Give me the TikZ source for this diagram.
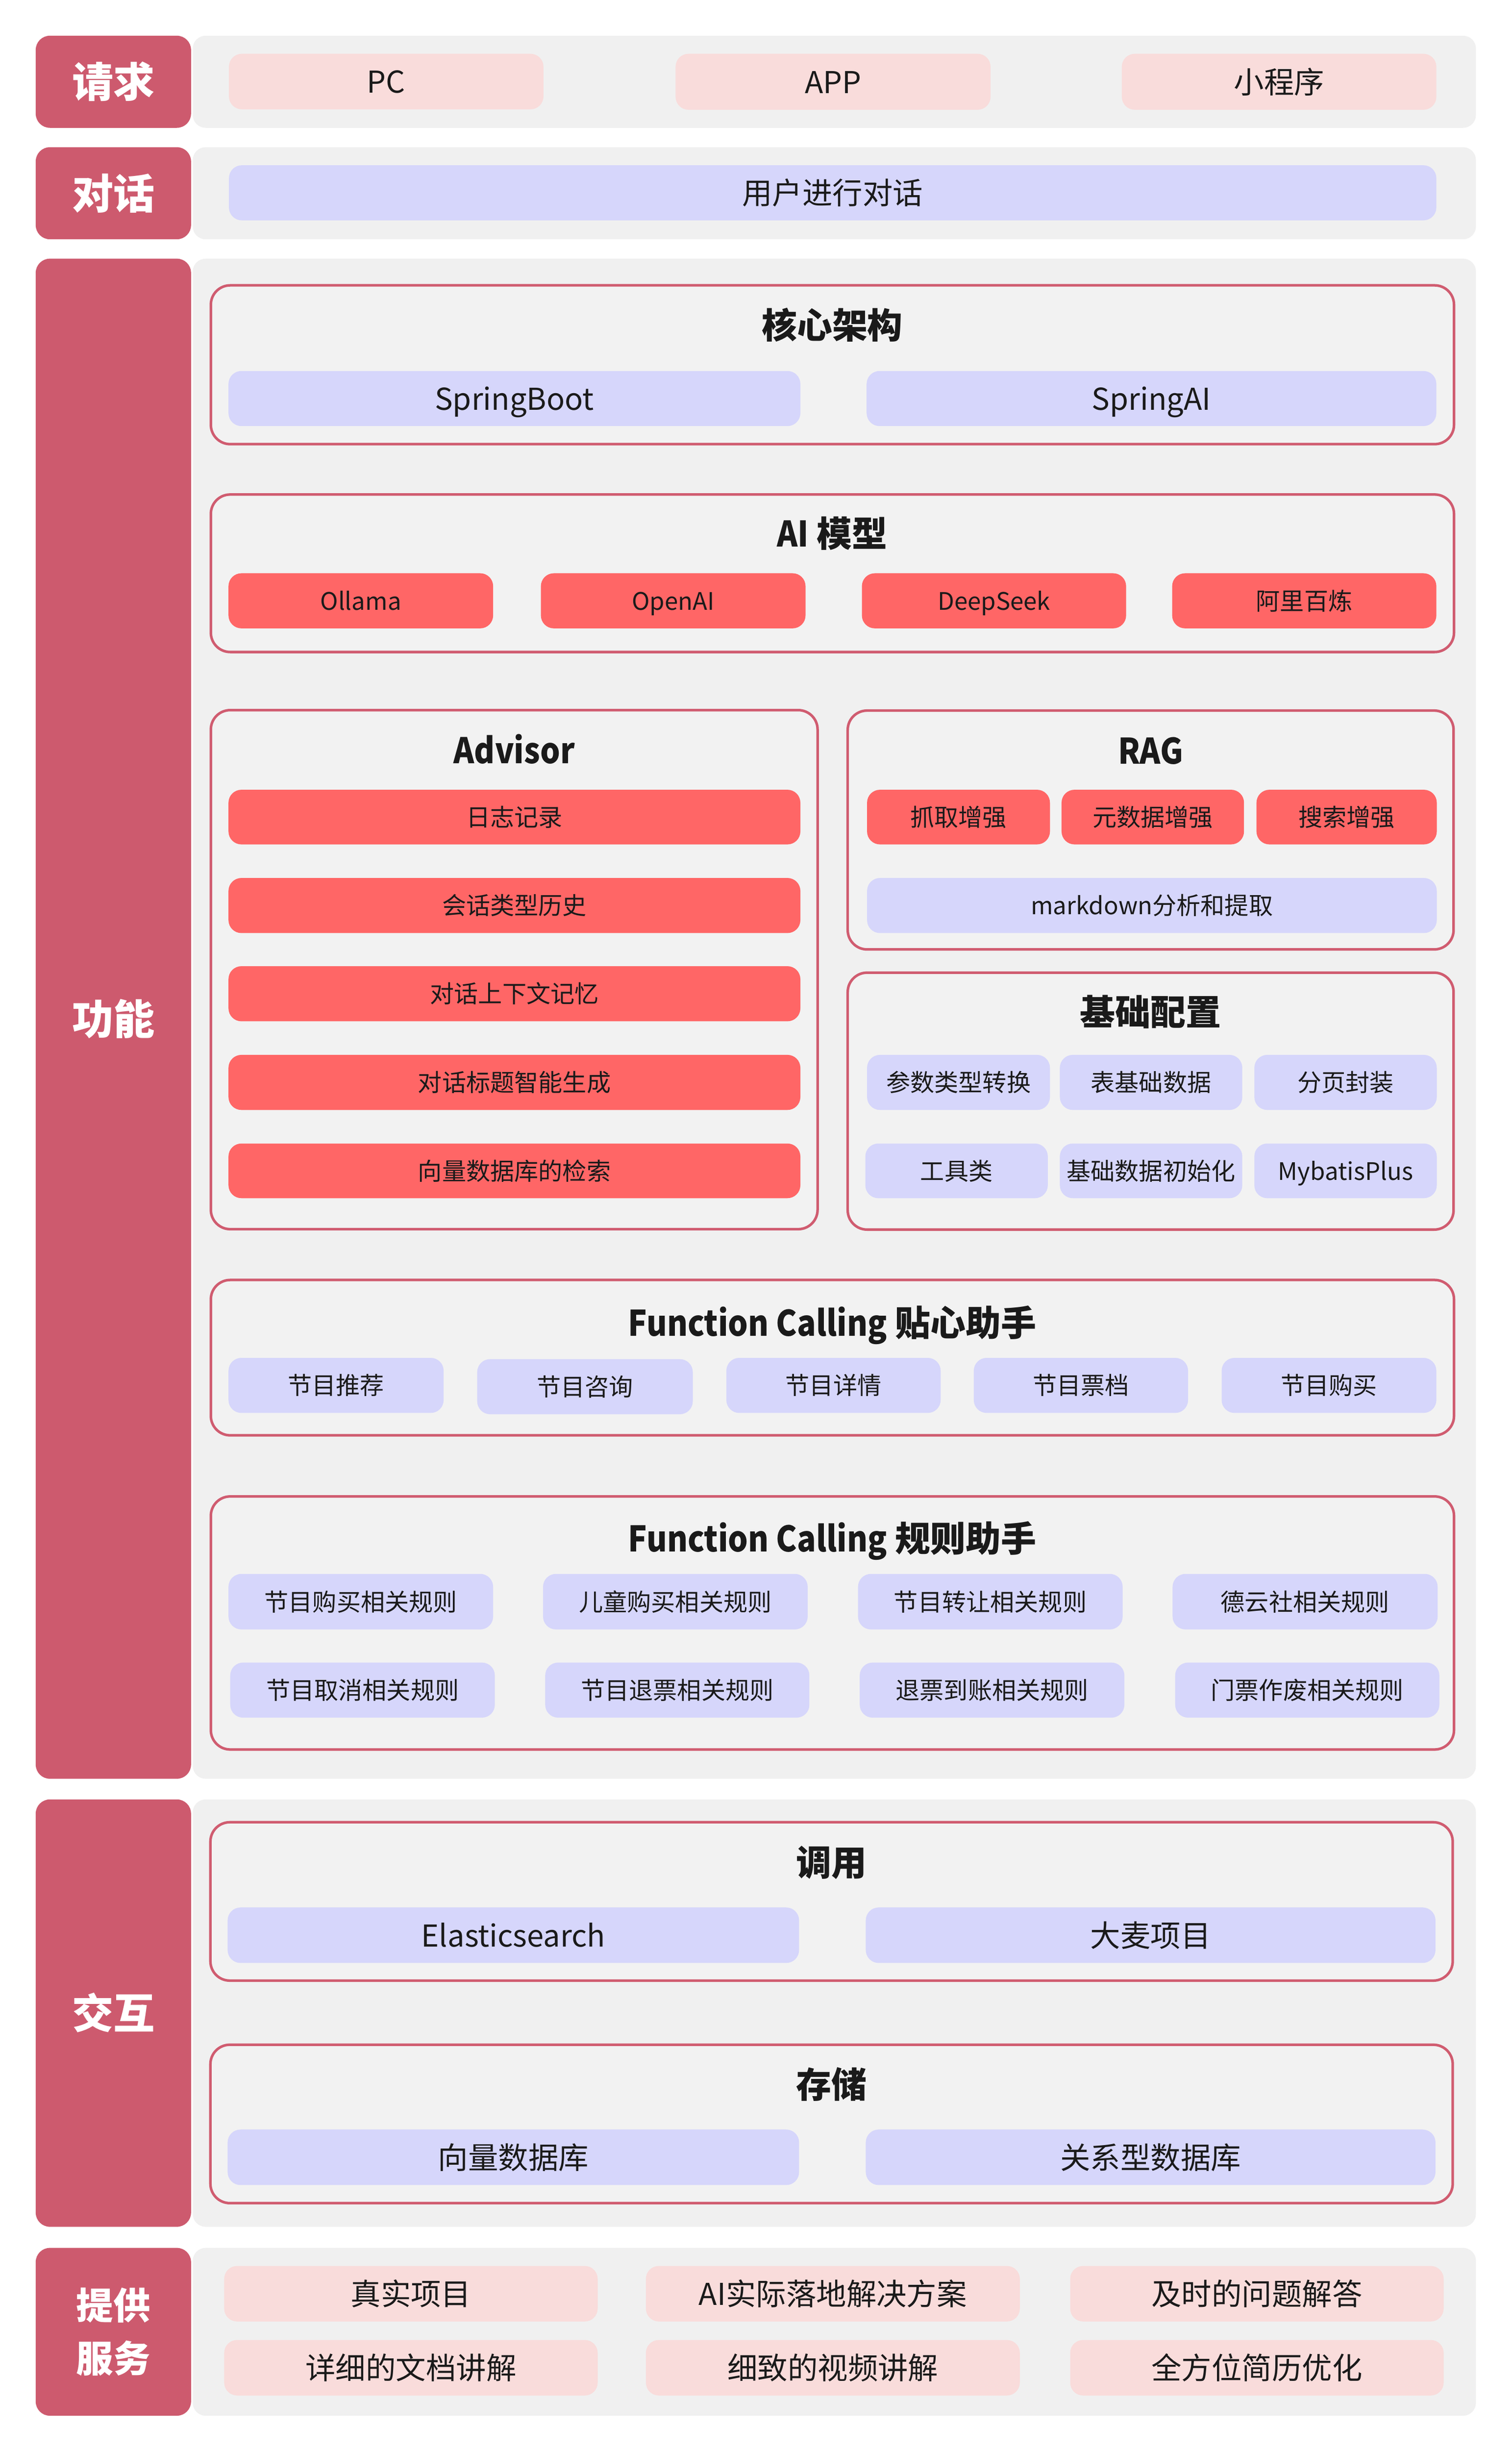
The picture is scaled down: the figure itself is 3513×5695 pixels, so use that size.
\documentclass[tikz,border=0pt]{standalone}
\usepackage{fontspec}
\setmainfont{Noto Sans CJK SC}
\newfontfamily\ttlL{Noto Sans CJK SC}[FakeStretch=0.89]
\definecolor{labc}{RGB}{205,90,110}
\definecolor{framec}{RGB}{208,92,112}
\definecolor{grayc}{RGB}{240,240,240}
\definecolor{framefill}{RGB}{242,242,242}
\definecolor{pinkc}{RGB}{249,220,219}
\definecolor{lavc}{RGB}{214,214,251}
\definecolor{coralc}{RGB}{255,102,102}
\definecolor{txtc}{RGB}{26,26,26}
\newcommand\bx[7]{\node[#2,minimum width={#5-#3},minimum height={#6-#4}] (#1) at ({(#3+#5)/2},{(#4+#6)/2}) {#7};}
\newcommand\lat[1]{{\ttlL\bfseries\fontsize{82}{98}\selectfont #1}}
\begin{document}
\begin{tikzpicture}[x=1pt,y=-1pt,
  basetxt/.style={inner sep=0pt, outer sep=0pt, text=txtc},
  lg/.style={basetxt, font=\fontsize{70}{84}\selectfont, text height=53pt, text depth=0pt},
  sm/.style={basetxt, font=\fontsize{56}{67}\selectfont, text height=42.5pt, text depth=0pt},
  pinkbox/.style={lg, fill=pinkc, rounded corners=30pt},
  lavbig/.style={lg, fill=lavc, rounded corners=30pt},
  lavsm/.style={sm, fill=lavc, rounded corners=30pt},
  redbox/.style={sm, fill=coralc, rounded corners=30pt},
  frame/.style={draw=framec, line width=6pt, fill=framefill, rounded corners=45pt, inner sep=0pt},
  ttl/.style={basetxt, font=\bfseries\fontsize{82}{98}\selectfont, text height=62pt, text depth=0pt},
  bgbox/.style={fill=grayc, rounded corners=30pt, inner sep=0pt},
  labbox/.style={fill=labc, rounded corners=33pt, inner sep=0pt, text=white, font=\bfseries\fontsize{96}{115}\selectfont, text height=73pt, text depth=0pt},
  labbox2/.style={fill=labc, rounded corners=33pt, inner sep=0pt, text=white, font=\bfseries\fontsize{86}{123}\selectfont, align=center}
]
\useasboundingbox (0,0) rectangle (3513,5695);
\fill[white] (0,0) rectangle (3513,5695);

% ---------- backgrounds and left labels ----------
\bx{bgreq}{bgbox}{448}{83}{3430}{297}{}
\bx{bgdia}{bgbox}{448}{342}{3430}{556}{}
\bx{bgfun}{bgbox}{448}{601}{3430}{4133}{}
\bx{bgint}{bgbox}{448}{4181}{3430}{5174}{}
\bx{bgsrv}{bgbox}{448}{5223}{3430}{5613}{}

\bx{lreq}{labbox}{83}{83}{444}{297}{请求}
\bx{ldia}{labbox}{83}{342}{444}{556}{对话}
\bx{lfun}{labbox}{83}{601}{444}{4133}{功能}
\bx{lint}{labbox}{83}{4181}{444}{5174}{交互}
\bx{lsrv}{labbox2}{83}{5223}{444}{5613}{提供\\服务}

% ---------- 请求 ----------
\bx{pc}{pinkbox}{532}{125}{1263}{254}{PC}
\bx{app}{pinkbox}{1570}{125}{2302}{255}{APP}
\bx{mini}{pinkbox}{2607}{125}{3338}{255}{小程序}

% ---------- 对话 ----------
\bx{user}{lavbig}{532}{384}{3338}{512}{用户进行对话}

% ---------- 功能: frames ----------
\bx{fcore}{frame}{490}{663}{3379}{1032}{}
\bx{fai}{frame}{490}{1149}{3379}{1515}{}
\bx{fadv}{frame}{490}{1650}{1900}{2856}{}
\bx{frag}{frame}{1970}{1651}{3378}{2206}{}
\bx{fbase}{frame}{1970}{2260}{3378}{2857}{}
\bx{ffc1}{frame}{490}{2974}{3379}{3335}{}
\bx{ffc2}{frame}{490}{3477}{3379}{4065}{}

% titles
\node[ttl] (tcore) at (1934,756) {核心架构};
\node[ttl] (tai) at (1934,1239) {\lat{AI} 模型};
\node[ttl] (tadv) at (1195,1743) {\lat{Advisor}};
\node[ttl] (trag) at (2674,1744) {\lat{RAG}};
\node[ttl] (tbase) at (2674,2351) {基础配置};
\node[ttl] (tfc1) at (1934,3073) {\lat{Function Calling} 贴心助手};
\node[ttl] (tfc2) at (1934,3575) {\lat{Function Calling} 规则助手};

% 核心架构
\bx{sboot}{lavbig}{531}{862}{1860}{990}{SpringBoot}
\bx{sai}{lavbig}{2014}{862}{3338}{990}{SpringAI}

% AI 模型
\bx{ollama}{redbox}{531}{1332}{1146}{1460}{Ollama}
\bx{openai}{redbox}{1257}{1332}{1872}{1460}{OpenAI}
\bx{deepseek}{redbox}{2003}{1332}{2617}{1460}{DeepSeek}
\bx{ali}{redbox}{2724}{1332}{3338}{1460}{阿里百炼}

% Advisor
\bx{adv1}{redbox}{531}{1835}{1860}{1962}{日志记录}
\bx{adv2}{redbox}{531}{2040}{1860}{2168}{会话类型历史}
\bx{adv3}{redbox}{531}{2245}{1860}{2373}{对话上下文记忆}
\bx{adv4}{redbox}{531}{2451}{1860}{2579}{对话标题智能生成}
\bx{adv5}{redbox}{531}{2657}{1860}{2784}{向量数据库的检索}

% RAG
\bx{rag1}{redbox}{2015}{1835}{2440}{1962}{抓取增强}
\bx{rag2}{redbox}{2467}{1835}{2891}{1962}{元数据增强}
\bx{rag3}{redbox}{2920}{1835}{3339}{1962}{搜索增强}
\bx{rag4}{lavsm}{2015}{2040}{3339}{2168}{markdown分析和提取}

% 基础配置
\bx{bas1}{lavsm}{2015}{2451}{2440}{2579}{参数类型转换}
\bx{bas2}{lavsm}{2463}{2451}{2887}{2579}{表基础数据}
\bx{bas3}{lavsm}{2915}{2451}{3339}{2579}{分页封装}
\bx{bas4}{lavsm}{2011}{2657}{2435}{2784}{工具类}
\bx{bas5}{lavsm}{2463}{2657}{2887}{2784}{基础数据初始化}
\bx{bas6}{lavsm}{2915}{2657}{3339}{2784}{MybatisPlus}

% Function Calling 贴心助手
\bx{fa1}{lavsm}{531}{3155}{1031}{3283}{节目推荐}
\bx{fa2}{lavsm}{1109}{3158}{1610}{3286}{节目咨询}
\bx{fa3}{lavsm}{1688}{3155}{2186}{3283}{节目详情}
\bx{fa4}{lavsm}{2263}{3155}{2761}{3283}{节目票档}
\bx{fa5}{lavsm}{2839}{3155}{3338}{3283}{节目购买}

% Function Calling 规则助手
\bx{fb1}{lavsm}{531}{3657}{1146}{3786}{节目购买相关规则}
\bx{fb2}{lavsm}{1262}{3657}{1877}{3786}{儿童购买相关规则}
\bx{fb3}{lavsm}{1994}{3657}{2609}{3786}{节目转让相关规则}
\bx{fb4}{lavsm}{2725}{3657}{3341}{3786}{德云社相关规则}
\bx{fb5}{lavsm}{535}{3863}{1150}{3991}{节目取消相关规则}
\bx{fb6}{lavsm}{1267}{3863}{1881}{3991}{节目退票相关规则}
\bx{fb7}{lavsm}{1998}{3863}{2613}{3991}{退票到账相关规则}
\bx{fb8}{lavsm}{2731}{3863}{3345}{3991}{门票作废相关规则}

% ---------- 交互 ----------
\bx{fcall}{frame}{489}{4234}{3376}{4602}{}
\bx{fstore}{frame}{489}{4751}{3376}{5119}{}
\node[ttl] (tcall) at (1932,4327) {调用};
\node[ttl] (tstore) at (1932,4843) {存储};
\bx{es}{lavbig}{529}{4432}{1857}{4561}{Elasticsearch}
\bx{damai}{lavbig}{2012}{4432}{3336}{4561}{大麦项目}
\bx{vdb}{lavbig}{529}{4948}{1857}{5077}{向量数据库}
\bx{rdb}{lavbig}{2012}{4948}{3336}{5077}{关系型数据库}

% ---------- 提供服务 ----------
\bx{s1}{pinkbox}{521}{5265}{1389}{5394}{真实项目}
\bx{s2}{pinkbox}{1501}{5265}{2370}{5394}{AI实际落地解决方案}
\bx{s3}{pinkbox}{2487}{5265}{3355}{5394}{及时的问题解答}
\bx{s4}{pinkbox}{521}{5437}{1389}{5566}{详细的文档讲解}
\bx{s5}{pinkbox}{1501}{5437}{2370}{5566}{细致的视频讲解}
\bx{s6}{pinkbox}{2487}{5437}{3355}{5566}{全方位简历优化}
\end{tikzpicture}
\end{document}
